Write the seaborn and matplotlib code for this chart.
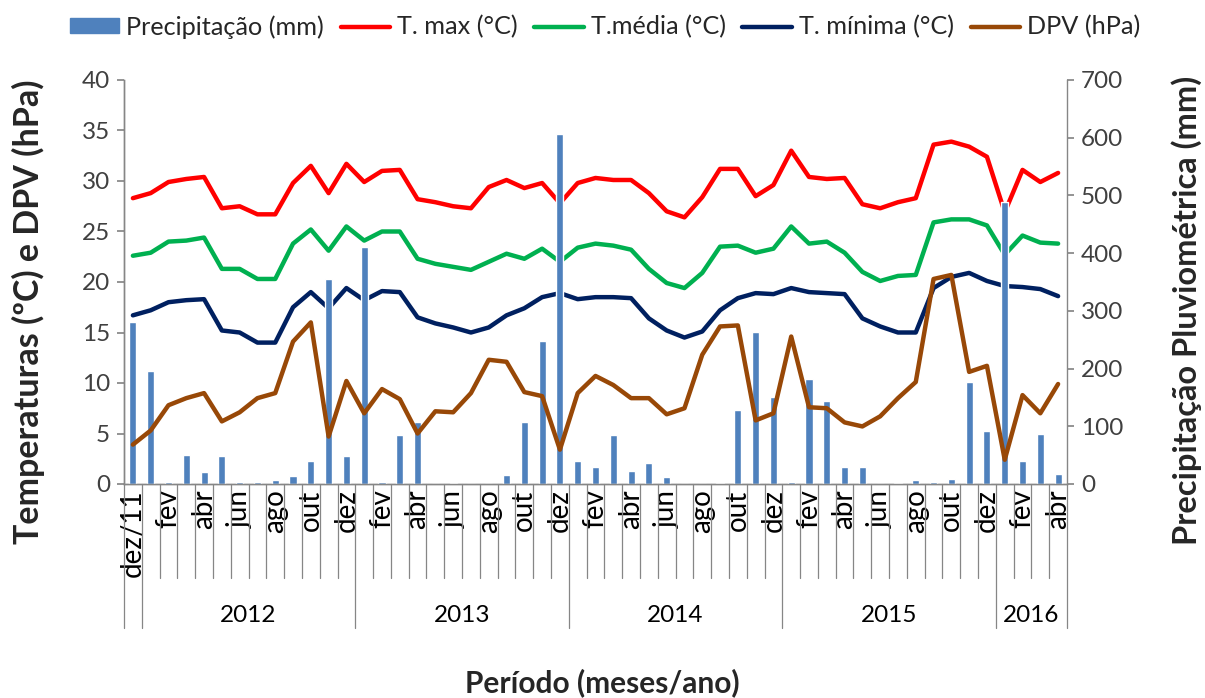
import numpy as np
import seaborn as sns
import matplotlib.pyplot as plt
import matplotlib.transforms as mtransforms
from matplotlib.lines import Line2D
from matplotlib.patches import Patch

# categories: dez/2011 .. abr/2016 (53 months)
meses = ["jan", "fev", "mar", "abr", "mai", "jun", "jul", "ago", "set", "out", "nov", "dez"]
month_labels = ["dez/11"] + meses * 4 + meses[:4]
years = ["2012", "2013", "2014", "2015", "2016"]
year_months = [12, 12, 12, 12, 4]

precip = [281, 195, 3, 51, 20, 49, 3, 3, 7, 14, 39, 355, 49,
          410, 4, 85, 107, 0, 2, 0, 0, 16, 107, 248, 606,
          40, 29, 85, 23, 36, 12, 0, 0, 2, 129, 264, 151,
          4, 182, 144, 29, 29, 0, 2, 7, 3, 9, 177, 92,
          489, 40, 87, 17]
t_max = [28.3, 28.8, 29.9, 30.2, 30.4, 27.3, 27.5, 26.7, 26.7, 29.8, 31.5, 28.8, 31.7,
         29.9, 31.0, 31.1, 28.2, 27.9, 27.5, 27.3, 29.4, 30.1, 29.3, 29.8, 27.8,
         29.8, 30.3, 30.1, 30.1, 28.8, 27.0, 26.4, 28.4, 31.2, 31.2, 28.5, 29.6,
         33.0, 30.4, 30.2, 30.3, 27.7, 27.3, 27.9, 28.3, 33.6, 33.9, 33.4, 32.4,
         26.9, 31.1, 29.9, 30.8]
t_med = [22.6, 22.9, 24.0, 24.1, 24.4, 21.3, 21.3, 20.3, 20.3, 23.8, 25.2, 23.1, 25.5,
         24.1, 25.0, 25.0, 22.3, 21.8, 21.5, 21.2, 22.0, 22.8, 22.3, 23.3, 22.0,
         23.4, 23.8, 23.6, 23.2, 21.3, 19.9, 19.4, 20.9, 23.5, 23.6, 22.9, 23.3,
         25.5, 23.8, 24.0, 22.9, 21.0, 20.1, 20.6, 20.7, 25.9, 26.2, 26.2, 25.6,
         22.7, 24.6, 23.9, 23.8]
t_min = [16.7, 17.2, 18.0, 18.2, 18.3, 15.2, 15.0, 14.0, 14.0, 17.5, 19.0, 17.4, 19.4,
         18.2, 19.1, 19.0, 16.5, 15.9, 15.5, 15.0, 15.5, 16.7, 17.4, 18.5, 18.9,
         18.3, 18.5, 18.5, 18.4, 16.4, 15.2, 14.5, 15.1, 17.2, 18.4, 18.9, 18.8,
         19.4, 19.0, 18.9, 18.8, 16.4, 15.6, 15.0, 15.0, 19.4, 20.5, 20.9, 20.1,
         19.6, 19.5, 19.3, 18.6]
dpv = [3.9, 5.3, 7.8, 8.5, 9.0, 6.2, 7.1, 8.5, 9.0, 14.1, 16.0, 4.7, 10.2,
       7.0, 9.4, 8.4, 5.0, 7.2, 7.1, 9.0, 12.3, 12.1, 9.1, 8.7, 3.4,
       9.0, 10.7, 9.8, 8.5, 8.5, 6.9, 7.5, 12.8, 15.6, 15.7, 6.3, 7.0,
       14.6, 7.6, 7.5, 6.1, 5.7, 6.7, 8.5, 10.1, 20.3, 20.7, 11.1, 11.7,
       2.4, 8.8, 7.0, 9.9]

c_bar = "#4F81BD"
c_max = "#FF0000"
c_med = "#00B050"
c_min = "#002060"
c_dpv = "#984807"
gray = "#868686"

sns.set_theme(style="white")
plt.rcParams['font.family'] = ['Lato', 'DejaVu Sans']

idx = np.arange(len(month_labels))

fig = plt.figure(figsize=(12.05, 6.98), dpi=100)
ax = fig.add_axes([124 / 1205, 1 - 484 / 698, 943 / 1205, 404 / 698])
ax2 = ax.twinx()
ax3 = ax.twinx()

lw = 3.2
sns.lineplot(x=idx, y=t_max, ax=ax, color=c_max, linewidth=lw)
sns.lineplot(x=idx, y=t_med, ax=ax, color=c_med, linewidth=lw)
sns.lineplot(x=idx, y=t_min, ax=ax, color=c_min, linewidth=lw)
sns.barplot(x=idx, y=precip, ax=ax2, color=c_bar, width=0.4, saturation=1)
sns.lineplot(x=idx, y=dpv, ax=ax3, color=c_dpv, linewidth=lw)

for a in (ax, ax2, ax3):
    if a.get_legend() is not None:
        a.get_legend().remove()

ax.set_ylim(0, 40)
ax3.set_ylim(0, 40)
ax2.set_ylim(0, 700)
ax.set_yticks(np.arange(0, 41, 5))
ax2.set_yticks(np.arange(0, 701, 100))
ax3.yaxis.set_visible(False)
for s in ax3.spines.values():
    s.set_visible(False)

tick_fs = 17.5
ax.set_xlim(-0.5, len(idx) - 0.5)
ax.set_xticks(idx)
ax.set_xticklabels([m if i % 2 == 0 else "" for i, m in enumerate(month_labels)],
                   rotation=90, fontsize=20, color="#000000")
ax.tick_params(axis="x", length=0, pad=4)
ax.tick_params(axis="y", left=True, length=5, color=gray, labelsize=tick_fs, labelcolor="#404040", pad=5)
ax2.tick_params(axis="y", right=True, length=5, color=gray, labelsize=tick_fs, labelcolor="#404040", pad=5)

for a in (ax, ax2):
    a.spines["top"].set_visible(False)
    for side in ("left", "right", "bottom"):
        a.spines[side].set_color(gray)
        a.spines[side].set_linewidth(1.0)
ax.spines["right"].set_visible(False)

# category separators of the two-level axis
trans = mtransforms.blended_transform_factory(ax.transData, ax.transAxes)
starts = np.cumsum([1] + year_months)
year_edges = {-0.5, 0.5} | {s - 0.5 for s in starts}
for k in range(len(idx) + 1):
    xe = k - 0.5
    y_end = -0.356 if xe in year_edges else -0.233
    ax.plot([xe, xe], [0, y_end], color=gray, lw=0.9, transform=trans, clip_on=False)

first = 1
for yr, n in zip(years, year_months):
    ax.text(first + (n - 1) / 2, -0.325, yr, transform=trans, ha="center", va="center",
            fontsize=tick_fs, color="#000000")
    first += n

ax.set_ylabel("Temperaturas (ºC) e DPV (hPa)", fontsize=24.5, fontweight="bold")
ax2.set_ylabel("Precipitação Pluviométrica (mm)", fontsize=23.5, fontweight="bold")
ax.yaxis.set_label_coords(-0.084, 0.426)
ax2.yaxis.set_label_coords(1.111, 0.43)
fig.text(0.5, 1 - 683 / 698, "Período (meses/ano)", ha="center", va="center",
         fontsize=21.5, fontweight="bold")

handles = [Patch(color=c_bar),
           Line2D([], [], color=c_max, lw=lw),
           Line2D([], [], color=c_med, lw=lw),
           Line2D([], [], color=c_min, lw=lw),
           Line2D([], [], color=c_dpv, lw=lw)]
labels = ["Precipitação (mm)", "T. max (°C)", "T.média (°C)", "T. mínima (°C)", "DPV (hPa)"]
fig.legend(handles, labels, loc="center", bbox_to_anchor=(0.502, 1 - 27 / 698), ncol=5,
           frameon=False, fontsize=18.2, handlelength=1.95, handleheight=0.55,
           handletextpad=0.27, columnspacing=0.67)

fig.savefig("out.png", dpi=100)
